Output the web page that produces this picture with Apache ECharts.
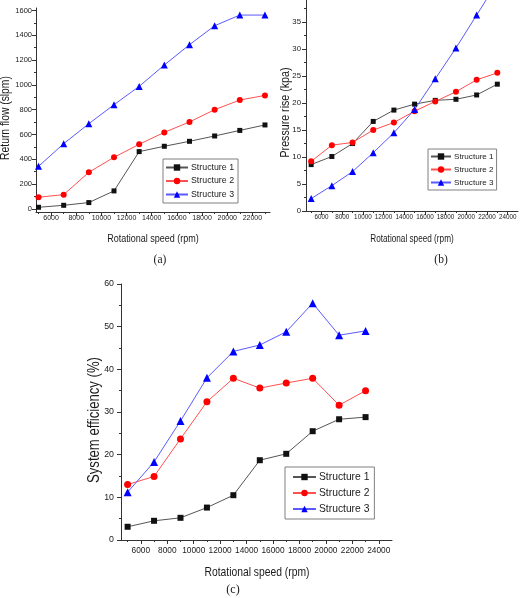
<!DOCTYPE html>
<html>
<head>
<meta charset="utf-8">
<script src="https://cdn.jsdelivr.net/npm/echarts@6/dist/echarts.min.js"></script>
<style>
html,body{margin:0;padding:0;background:#fff;}
#chart{width:520px;height:598px;}
</style>
</head>
<body>
<div id="chart"></div>
<script>
// ---- data ----
const speeds = [5000, 7000, 9000, 11000, 13000, 15000, 17000, 19000, 21000, 23000];
const seriesNames = ['Structure 1', 'Structure 2', 'Structure 3'];
// (a) Return flow (slpm)
const flowS1 = [13, 29, 51, 145, 462, 505, 545, 588, 633, 677];
const flowS2 = [94, 115, 295, 416, 521, 617, 701, 800, 878, 915];
const flowS3 = [343, 526, 687, 840, 988, 1160, 1324, 1477, 1563, 1563];
// (b) Pressure rise (kpa)
const pressS1 = [8.6, 10.1, 12.5, 16.6, 18.7, 19.8, 20.5, 20.7, 21.5, 23.5];
const pressS2 = [9.2, 12.2, 12.7, 15.0, 16.4, 18.5, 20.3, 22.1, 24.3, 25.6];
const pressS3 = [2.3, 4.7, 7.3, 10.8, 14.5, 18.8, 24.5, 30.2, 36.3, 42.4];
// (c) System efficiency (%)
const effS1 = [3.1, 4.5, 5.2, 7.6, 10.5, 18.7, 20.2, 25.5, 28.3, 28.8];
const effS2 = [13.0, 14.9, 23.7, 32.4, 37.9, 35.6, 36.8, 37.9, 31.6, 35.0];
const effS3 = [11.2, 18.3, 27.9, 38.0, 44.2, 45.7, 48.8, 55.5, 48.0, 49.0];
// tick labels
const speedTicksA = [6000, 8000, 10000, 12000, 14000, 16000, 18000, 20000, 22000];
const speedMinorA = [5000, 7000, 9000, 11000, 13000, 15000, 17000, 19000, 21000, 23000];
const speedTicksBC = [6000, 8000, 10000, 12000, 14000, 16000, 18000, 20000, 22000, 24000];
const speedMinorBC = [5000, 7000, 9000, 11000, 13000, 15000, 17000, 19000, 21000, 23000];
const flowTicks = [0, 200, 400, 600, 800, 1000, 1200, 1400, 1600];
const flowMinor = [100, 300, 500, 700, 900, 1100, 1300, 1500];
const pressTicks = [0, 5, 10, 15, 20, 25, 30, 35];
const pressMinor = [2.5, 7.5, 12.5, 17.5, 22.5, 27.5, 32.5, 37.5];
const effTicks = [0, 10, 20, 30, 40, 50, 60];
const effMinor = [5, 15, 25, 35, 45, 55];

const SANS = "'Liberation Sans', Arial, sans-serif";
const SERIF = "'Liberation Serif', 'DejaVu Serif', serif";
const TXT = '#1a1a1a';
const AXC = '#333';

const colors = ['#111111', '#ff0000', '#0000ff'];
const symbols = ['rect', 'circle', 'triangle'];
const lineColors = ['#555555', '#ff5050', '#5a5aff'];

function majorAxis(gridIndex, position, min, max, ticks, fontSize, margin) {
  return {
    type: 'value', gridIndex, position, min, max,
    axisLine: {show: true, onZero: false, lineStyle: {color: AXC, width: 1}},
    axisTick: {show: true, customValues: ticks, length: 4, lineStyle: {color: AXC}},
    axisLabel: {show: true, customValues: ticks, fontFamily: SANS, fontSize, color: TXT, margin,
      formatter: v => String(v)},
    splitLine: {show: false}
  };
}
function minorAxis(gridIndex, position, min, max, ticks) {
  return {
    type: 'value', gridIndex, position, offset: 0, min, max,
    axisLine: {show: false, onZero: false},
    axisTick: {show: true, customValues: ticks, length: 2, lineStyle: {color: AXC}},
    axisLabel: {show: false},
    splitLine: {show: false}
  };
}
function makeSeries(dataArr, axisIdx, sizes) {
  return dataArr.map((vals, i) => ({
    name: seriesNames[i],
    type: 'line',
    xAxisIndex: axisIdx, yAxisIndex: axisIdx,
    data: speeds.map((s, k) => [s, vals[k]]),
    symbol: symbols[i],
    symbolSize: sizes[i],
    itemStyle: {color: colors[i]},
    lineStyle: {color: lineColors[i], width: 1},
    clip: true,
    animation: false
  }));
}
function makeLegend(left, top, fontSize, itemWidth, itemGap, padding) {
  return {
    left, top, orient: 'vertical',
    data: seriesNames,
    selectedMode: false,
    itemWidth, itemHeight: 8, itemGap,
    padding,
    borderColor: '#808080', borderWidth: 1, backgroundColor: '#fff',
    textStyle: {fontFamily: SANS, fontSize, color: TXT, padding: [0, 0, 0, -2]}
  };
}
function txt(x, y, text, fontSize, family, rotation, sx) {
  return {
    type: 'text', x, y, rotation: rotation || 0, scaleX: sx || 1,
    style: {text, fontSize, fontFamily: family, fill: TXT, align: 'center', verticalAlign: 'middle'}
  };
}

const chart = echarts.init(document.getElementById('chart'), null, {renderer: 'canvas'});
chart.setOption({
  backgroundColor: '#fff',
  animation: false,
  grid: [
    {left: 36, top: 8, width: 234, height: 204},
    {left: 306, top: 0, width: 212, height: 211},
    {left: 121, top: 284, width: 271, height: 256}
  ],
  xAxis: [
    majorAxis(0, 'bottom', 4800, 23400, speedTicksA, 7, 3),
    minorAxis(0, 'bottom', 4800, 23400, speedMinorA),
    majorAxis(1, 'bottom', 4500, 25000, speedTicksBC, 6.3, 3),
    minorAxis(1, 'bottom', 4500, 25000, speedMinorBC),
    majorAxis(2, 'bottom', 4500, 25000, speedTicksBC, 8.3, 7),
    minorAxis(2, 'bottom', 4500, 25000, speedMinorBC)
  ],
  yAxis: [
    majorAxis(0, 'left', -25, 1620, flowTicks, 7.5, 4),
    minorAxis(0, 'left', -25, 1620, flowMinor),
    majorAxis(1, 'left', 0, 39.1, pressTicks, 7.8, 5),
    minorAxis(1, 'left', 0, 39.1, pressMinor),
    majorAxis(2, 'left', 0, 60, effTicks, 8.8, 7),
    minorAxis(2, 'left', 0, 60, effMinor)
  ],
  legend: [
    makeLegend(163, 159, 8.8, 22, 4.5, [4, 4, 4, 2]),
    makeLegend(428, 149, 8.1, 20, 5, [3.5, 3, 3.5, 2]),
    makeLegend(285, 467, 10.3, 23, 6, [5, 5, 5, 7])
  ],
  series: [
    ...makeSeries([flowS1, flowS2, flowS3], 0, [5, 6, 7]),
    ...makeSeries([pressS1, pressS2, pressS3], 2, [5, 6, 7]),
    ...makeSeries([effS1, effS2, effS3], 4, [6, 7, 8])
  ],
  graphic: [
    txt(5.5, 118, 'Return flow (slpm)', 12.6, SANS, Math.PI / 2, 0.82),
    txt(153, 239, 'Rotational speed (rpm)', 11, SANS, 0, 0.82),
    txt(160, 260, '(a)', 11.5, SERIF),
    txt(285, 112.5, 'Pressure rise (kpa)', 13, SANS, Math.PI / 2, 0.82),
    txt(412, 239, 'Rotational speed (rpm)', 10, SANS, 0, 0.82),
    txt(441, 260, '(b)', 11.5, SERIF),
    txt(95, 420, 'System efficiency (%)', 16, SANS, Math.PI / 2, 0.82),
    txt(257, 573, 'Rotational speed (rpm)', 12.6, SANS, 0, 0.82),
    txt(233, 590, '(c)', 12, SERIF)
  ]
});
</script>
</body>
</html>
